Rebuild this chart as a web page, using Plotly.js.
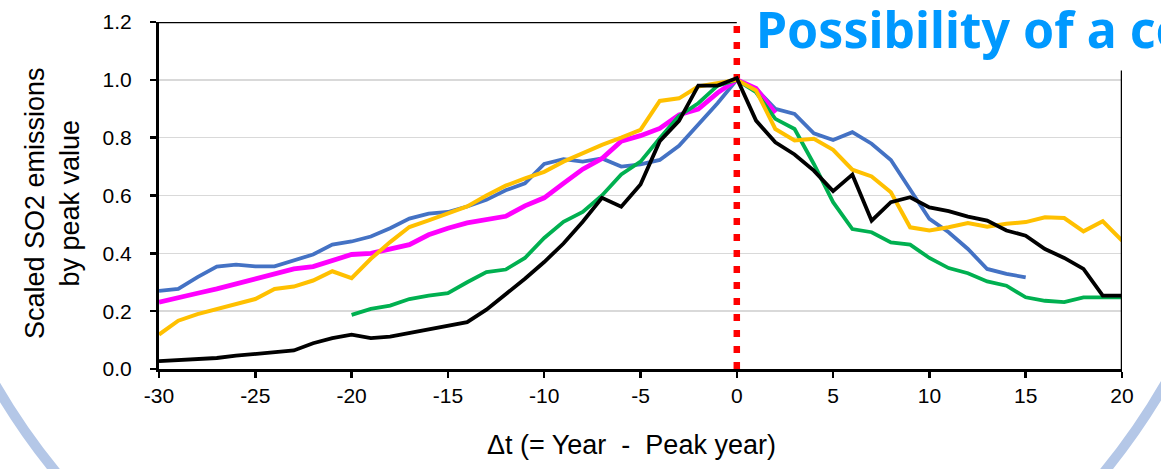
<!DOCTYPE html>
<html>
<head>
<meta charset="utf-8">
<script src="https://cdn.plot.ly/plotly-3.0.1.min.js"></script>
<style>html,body{margin:0;padding:0;background:#fff;}#chart{width:1161px;height:469px;}</style>
</head>
<body>
<div id="chart"></div>
<script>
// Δt (year - peak year) ranges
const xBlue = [];  for (let t = -30; t <= 15; t++) xBlue.push(t);
const xMagenta = []; for (let t = -30; t <= 2; t++) xMagenta.push(t);
const xYellow = []; for (let t = -30; t <= 20; t++) xYellow.push(t);
const xGreen = []; for (let t = -20; t <= 20; t++) xGreen.push(t);
const xBlack = []; for (let t = -30; t <= 20; t++) xBlack.push(t);

const blueVals = [0.270,0.277,0.318,0.354,0.361,0.355,0.355,0.375,0.396,0.430,
  0.441,0.458,0.487,0.520,0.537,0.543,0.562,0.585,0.618,0.642,
  0.709,0.726,0.717,0.728,0.700,0.708,0.723,0.772,0.844,0.919,
  1.000,0.969,0.900,0.882,0.815,0.792,0.819,0.779,0.723,0.623,
  0.519,0.473,0.415,0.346,0.329,0.317];
const magentaVals = [0.231,0.248,0.262,0.277,0.294,0.309,0.329,0.346,0.354,0.375,
  0.396,0.400,0.416,0.430,0.464,0.487,0.505,0.516,0.528,0.564,
  0.592,0.642,0.691,0.728,0.788,0.807,0.832,0.879,0.899,0.955,
  1.000,0.970,0.885];
const yellowVals = [0.119,0.167,0.190,0.208,0.225,0.242,0.277,0.285,0.306,0.338,
  0.314,0.381,0.439,0.491,0.514,0.537,0.562,0.600,0.634,0.659,
  0.682,0.717,0.746,0.775,0.800,0.827,0.927,0.936,0.977,0.988,
  1.000,0.963,0.830,0.790,0.796,0.758,0.689,0.666,0.611,0.490,
  0.479,0.490,0.505,0.492,0.502,0.508,0.525,0.522,0.476,0.511,
  0.444];
const greenVals = [0.187,0.208,0.219,0.242,0.254,0.262,0.300,0.335,0.344,0.384,
  0.453,0.509,0.543,0.600,0.673,0.717,0.798,0.875,0.919,0.980,
  1.000,0.957,0.865,0.830,0.709,0.577,0.484,0.473,0.438,0.430,
  0.384,0.349,0.331,0.303,0.288,0.248,0.236,0.231,0.248,0.248,
  0.248];
const blackVals = [0.027,0.031,0.035,0.038,0.046,0.052,0.058,0.064,0.089,0.107,
  0.119,0.107,0.112,0.124,0.139,0.150,0.162,0.205,0.257,0.312,
  0.370,0.434,0.509,0.592,0.561,0.638,0.788,0.858,0.980,0.980,
  1.006,0.859,0.784,0.742,0.686,0.615,0.672,0.513,0.577,0.594,
  0.559,0.546,0.527,0.513,0.479,0.461,0.415,0.384,0.346,0.254,
  0.254];

const xTickVals = [-30,-25,-20,-15,-10,-5,0,5,10,15,20];
const xTickText = ['-30','-25','-20','-15','-10','-5','0','5','10','15','20'];
const yTickVals = [0,0.2,0.4,0.6,0.8,1.0,1.2];
const yTickText = ['0.0','0.2','0.4','0.6','0.8','1.0','1.2'];

const titleText = 'Possibility of a co';
const xTitle = 'Δt (= Year&nbsp;&nbsp;-&nbsp;&nbsp;Peak year)';
const yTitle = 'Scaled SO2 emissions<br>by peak value';

const mk = (x, y, color, w) => ({x, y, type:'scatter', mode:'lines', line:{color, width:w}, hoverinfo:'skip', showlegend:false});
const traces = [
  mk(xBlue, blueVals, '#4472C4', 3.8),
  mk(xMagenta, magentaVals, '#FF00FF', 4.8),
  mk(xGreen, greenVals, '#00B050', 3.8),
  mk(xYellow, yellowVals, '#FFC000', 4),
  mk(xBlack, blackVals, '#000000', 3.8)
];

const tickFont = {family:'"Liberation Sans", Arial, sans-serif', size:21, color:'#000'};
const W = 1161, H = 469, L = 159, R = 39, T = 22, B = 100;
const pw = W - L - R, ph = H - T - B;
const px = v => (v - L) / pw;
const py = v => (H - B - v) / ph;

// background arc circle (pixel centre 580,45 radius 676)
const cx = 580, cy = 45, rad = 676;

const layout = {
  width: W, height: H,
  margin: {l:L, r:R, t:T, b:B, pad:0},
  paper_bgcolor:'#fff', plot_bgcolor:'#fff',
  showlegend:false,
  xaxis: {range:[-30,20], tickvals:xTickVals, ticktext:xTickText, showgrid:false, zeroline:false,
    showline:true, linecolor:'#000', linewidth:3, ticks:'outside', ticklen:6, tickwidth:2.5, tickcolor:'#000',
    tickfont:tickFont, fixedrange:true},
  yaxis: {range:[0,1.2], tickvals:yTickVals, ticktext:yTickText, showgrid:true, gridcolor:'#d9d9d9', gridwidth:1.5,
    zeroline:false, showline:true, linecolor:'#000', linewidth:3, ticks:'outside', ticklen:6, tickwidth:2.5,
    tickcolor:'#000', tickfont:tickFont, ticklabelstandoff:14, fixedrange:true},
  shapes: [
    {type:'circle', xref:'paper', yref:'paper', layer:'below',
     x0:px(cx-rad), x1:px(cx+rad), y0:py(cy+rad), y1:py(cy-rad),
     line:{color:'#B4C7E7', width:10}, fillcolor:'rgba(0,0,0,0)'},
    {type:'rect', xref:'x', yref:'y', layer:'between', x0:0, x1:20, y0:1.1, y1:1.25,
     line:{width:0}, fillcolor:'#fff'},
    {type:'line', xref:'x', yref:'y', layer:'above', x0:-30, x1:0, y0:1.2, y1:1.2,
     line:{color:'#000', width:2.5}},
    {type:'line', xref:'x', yref:'y', layer:'above', x0:20, x1:20, y0:0, y1:1.032,
     line:{color:'#000', width:2.5}},
    {type:'line', xref:'x', yref:'y', layer:'between', x0:0, x1:0, y0:0, y1:1.2,
     line:{color:'#FF0000', width:6.5, dash:'7px,9px'}}
  ],
  annotations: [
    {text:titleText, xref:'paper', yref:'paper', x:px(754), y:py(29), xanchor:'left', yanchor:'middle',
     showarrow:false, font:{family:'"Noto Sans", sans-serif', size:50, color:'#0099FF', weight:'bold'}},
    {text:xTitle, xref:'paper', yref:'paper', x:px(631), y:py(445), xanchor:'center', yanchor:'middle',
     showarrow:false, font:{family:'"Liberation Sans", Arial, sans-serif', size:27, color:'#000'}},
    {text:yTitle, xref:'paper', yref:'paper', x:px(52), y:py(203), xanchor:'center', yanchor:'middle',
     textangle:-90, showarrow:false,
     font:{family:'"Liberation Sans", Arial, sans-serif', size:27, color:'#000'}}
  ]
};

Plotly.newPlot('chart', traces, layout, {displayModeBar:false, staticPlot:true});
</script>
</body>
</html>
